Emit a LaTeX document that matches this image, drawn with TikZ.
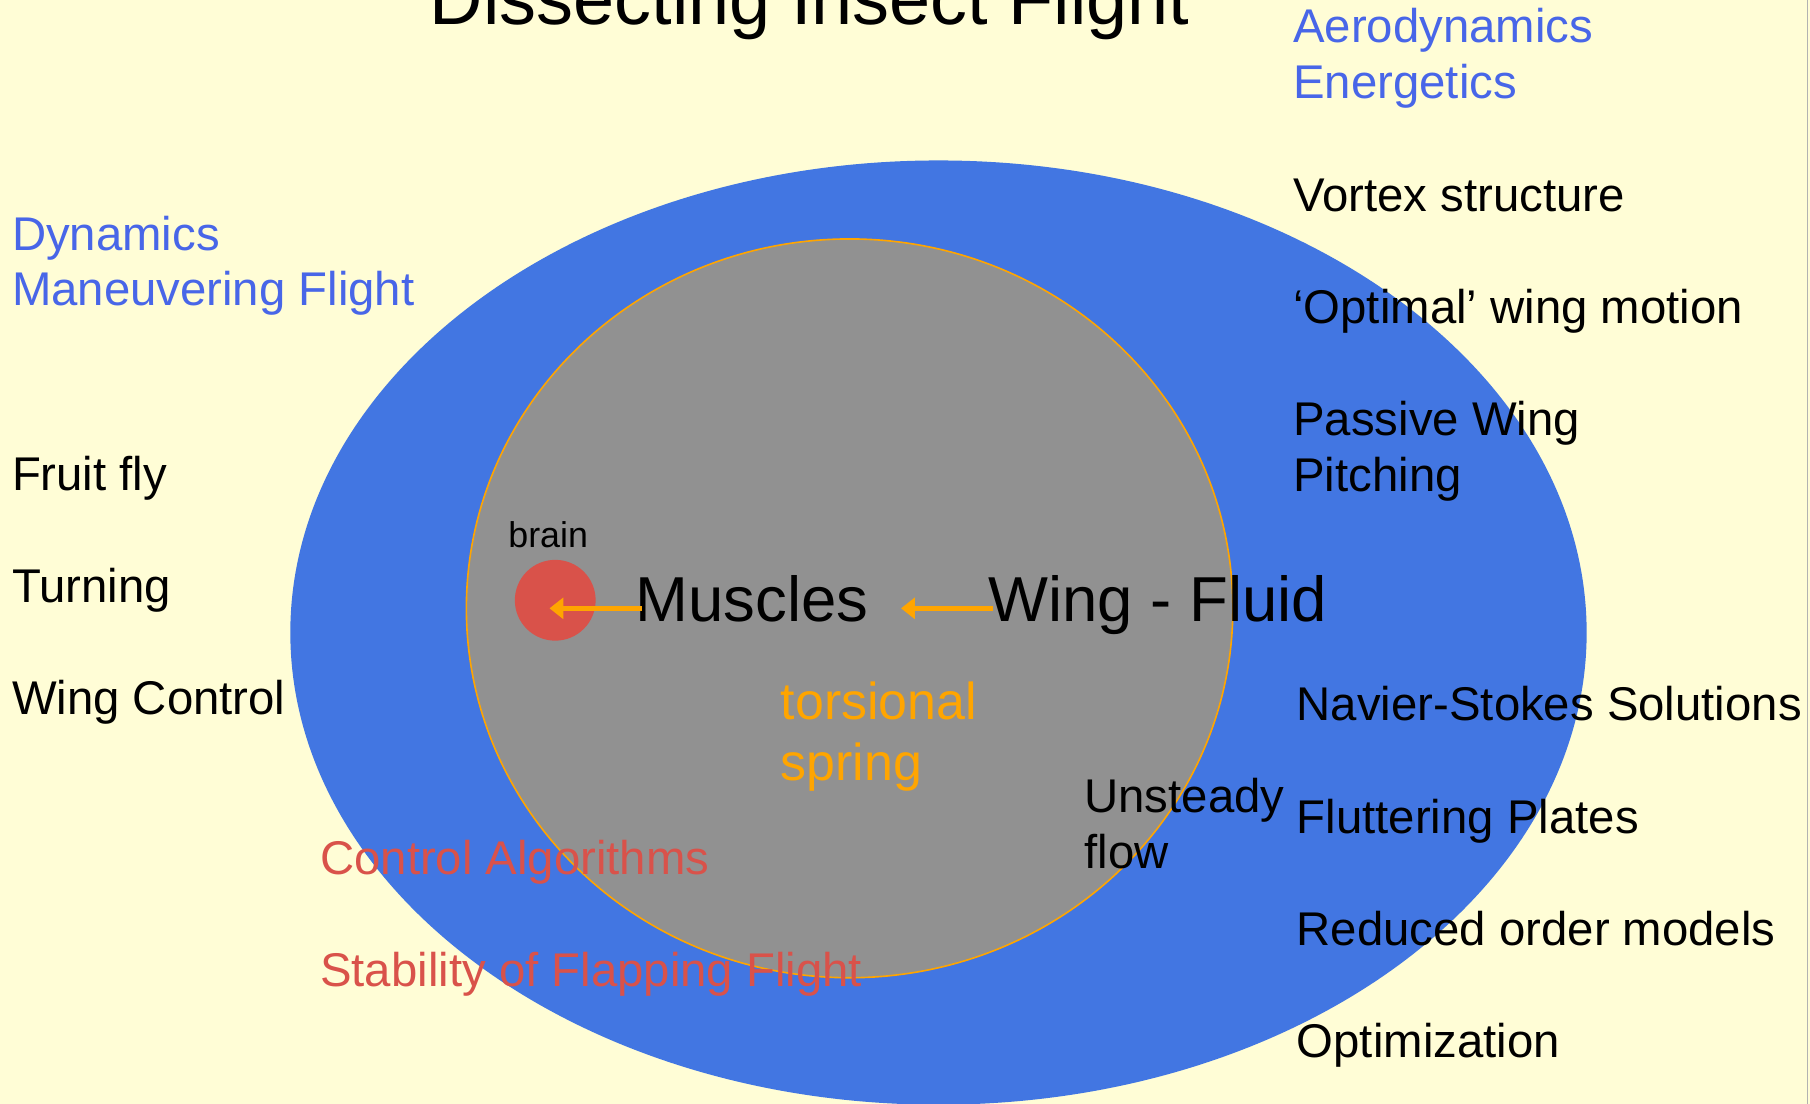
\documentclass[tikz,border=0pt]{standalone}
\usepackage{fontspec}
\setmainfont{Liberation Sans}
\usetikzlibrary{arrows.meta,calc}
\definecolor{bgyellow}{RGB}{255,253,214}
\definecolor{outerblue}{RGB}{66,118,226}
\definecolor{textblue}{RGB}{72,102,232}
\definecolor{innergray}{RGB}{145,145,145}
\definecolor{springorange}{RGB}{255,165,0}
\definecolor{brainred}{RGB}{217,82,74}
\tikzset{
  lbl/.style={anchor=base west, inner sep=0pt, font=\fontsize{20.5}{24}\selectfont},
  bluelbl/.style={lbl, text=textblue},
  redlbl/.style={lbl, text=brainred},
  biglbl/.style={anchor=base west, inner sep=0pt, font=\fontsize{27.5}{32}\selectfont},
  arr/.style={draw=springorange, line width=2pt, -{Triangle[length=6pt,width=9pt]}}
}
\begin{document}
\begin{tikzpicture}[x=0.5pt,y=-0.5pt]
\path[use as bounding box] (0,0) rectangle (1568,956);
\clip (0,0) rectangle (1568,956);
\fill[bgyellow] (0,0) rectangle (1568,956);
\draw[gray!60, line width=0.6pt] (1566,0) -- (1566,956);
% ellipses
\fill[outerblue] (813,548) ellipse [x radius=280.75pt, y radius=204.5pt];
\filldraw[fill=innergray, draw=springorange, line width=0.7pt] (736,527) ellipse [x radius=166pt, y radius=160pt];
\node (brain) [circle, fill=brainred, minimum size=35pt, inner sep=0pt] at (481,520) {};
% title
\node (title) [anchor=base west, inner sep=0pt, font=\fontsize{32}{38}\selectfont] at (372,21) {Dissecting Insect Flight};
% right column
\node (aero) [bluelbl] at (1120,37) {Aerodynamics};
\node (ener) [bluelbl] at (1120,85) {Energetics};
\node (vortex) [lbl] at (1120,183) {Vortex structure};
\node (optimal) [lbl] at (1120,280) {‘Optimal’ wing motion};
\node (passive) [lbl] at (1120,377) {Passive Wing};
\node (pitching) [lbl] at (1120,426) {Pitching};
\node (navier) [lbl] at (1123,624) {Navier-Stokes Solutions};
\node (flutter) [lbl] at (1123,722) {Fluttering Plates};
\node (reduced) [lbl] at (1123,819) {Reduced order models};
\node (optim) [lbl] at (1123,916) {Optimization};
% left column
\node (dyn) [bluelbl] at (10,217) {Dynamics};
\node (maneuver) [bluelbl] at (10,265) {Maneuvering Flight};
\node (fruit) [lbl] at (10,425) {Fruit fly};
\node (turning) [lbl] at (10,522) {Turning};
\node (wingctl) [lbl] at (10,619) {Wing Control};
% red
\node (ctlalg) [redlbl] at (277,758) {Control Algorithms};
\node (stab) [redlbl] at (277,855) {Stability of Flapping Flight};
% inner
\node (unsteady) [lbl] at (939,704) {Unsteady};
\node (flow) [lbl] at (939,752) {flow};
\node (torsional) [lbl, text=springorange, font=\fontsize{22.5}{26}\selectfont] at (676,623) {torsional};
\node (spring) [lbl, text=springorange, font=\fontsize{22.5}{26}\selectfont] at (676,676) {spring};
\node (brainlbl) [anchor=base west, inner sep=0pt, font=\fontsize{15.5}{18}\selectfont] at (440,474) {brain};
\node (muscles) [biglbl] at (550,538) {Muscles};
\node (wing) [biglbl] at (856,538) {Wing - Fluid};
% arrows
\draw[arr] ($(muscles.base west)+(3pt,5.5pt)$) -- ($(brain.center)+(-2.5pt,-3.5pt)$);
\draw[arr] ($(wing.base west)+(2pt,5.5pt)$) -- ($(muscles.base east)+(14pt,5.5pt)$);
\end{tikzpicture}
\end{document}
